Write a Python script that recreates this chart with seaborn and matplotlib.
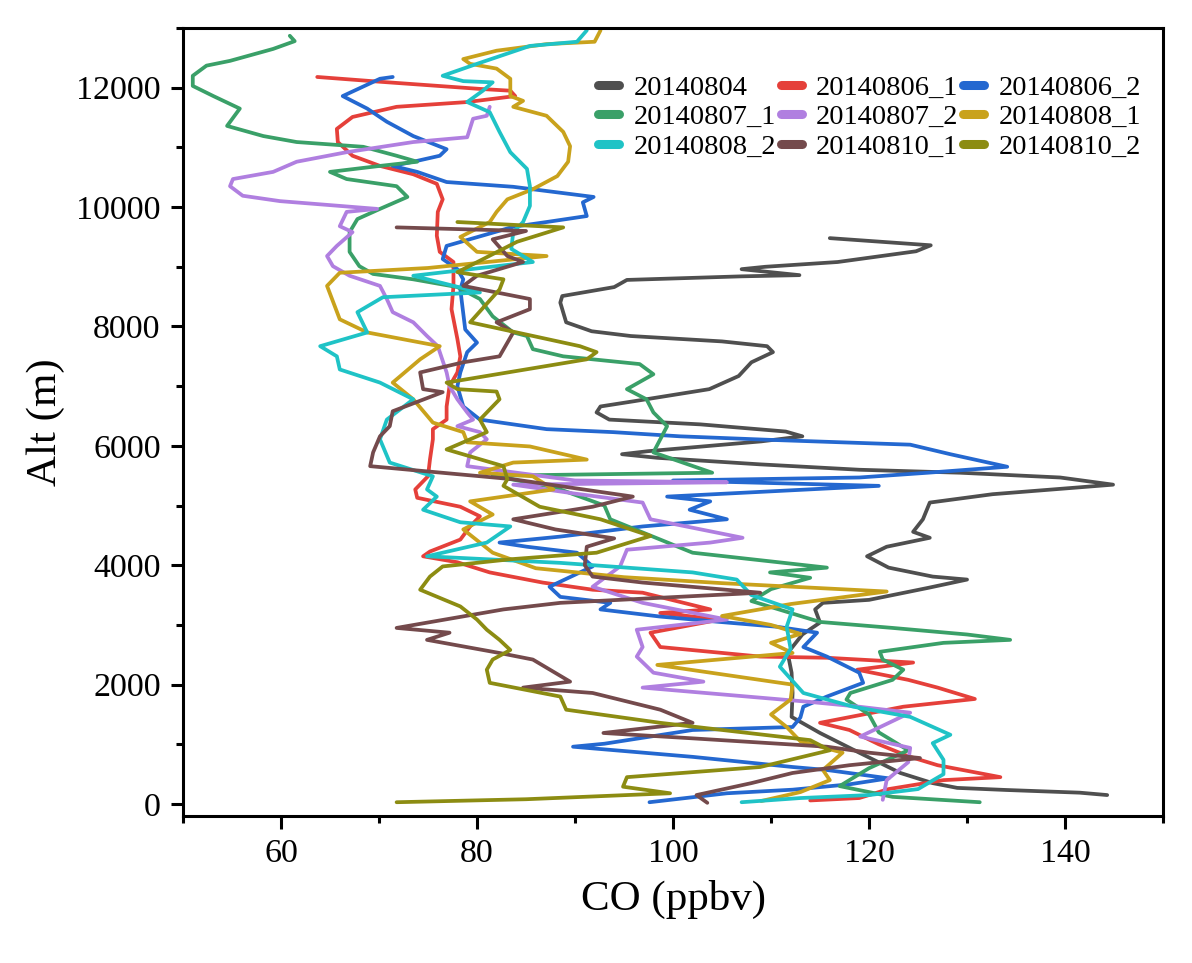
import matplotlib
matplotlib.use("Agg")
import matplotlib.pyplot as plt
from matplotlib.ticker import MultipleLocator
import pandas as pd
import seaborn as sns

flights = ['20140804', '20140806_1', '20140806_2', '20140807_1', '20140807_2',
           '20140808_1', '20140808_2', '20140810_1', '20140810_2']
colors = ['#4f4f4f', '#e5403a', '#2468d0', '#3aa068', '#b07fe0',
          '#c9a21c', '#1fc3c6', '#744a4c', '#8c8c12']

# 20140804
co_0804 = [144.3, 141.5, 134, 129, 126.5, 123.2, 119, 115, 112.1, 112.2, 112.1, 111.7, 113.2, 115, 114.5,
           115.3, 120, 126, 130, 126.5, 122, 119.8, 121.8, 126.2, 124.5, 125.5, 126.2, 132.6, 144.9, 139.5,
           129.3, 119, 108.9, 98.4, 94.8, 97.4, 109, 113.2, 111.5, 102.8, 93.5, 92.2, 92.6, 96.1, 103.7,
           106.7, 108, 110.2, 109.6, 105, 95.7, 91.7, 89.1, 88.5, 88.7, 94, 95.3, 107, 112.9, 107,
           109.4, 116.8, 124.8, 126.3, 116]
alt_0804 = [150, 190, 235, 270, 350, 520, 860, 1190, 1460, 1860, 2200, 2530, 2840, 3040, 3260,
            3370, 3420, 3620, 3760, 3810, 3960, 4150, 4310, 4460, 4560, 4770, 5050, 5190, 5350, 5470,
            5550, 5600, 5690, 5800, 5860, 5910, 6075, 6160, 6240, 6360, 6440, 6560, 6660, 6750, 6950,
            7170, 7400, 7570, 7670, 7750, 7840, 7920, 8070, 8400, 8510, 8660, 8780, 8840, 8860, 8960,
            9000, 9080, 9260, 9360, 9480]

# 20140806_1
co_0806_1 = [63.7, 70.1, 80.3, 83.4, 83.9, 79, 71.8, 67.3, 65.7, 65.8, 67.3, 70.1, 73.5, 75.9, 76.5,
             76, 75.9, 76.2, 77.6, 77.6, 77.4, 78, 78.3, 78, 77.2, 76.9, 76.9, 75.5, 75.5, 75.2,
             75, 73.7, 73.9, 78.3, 80.3, 79.3, 78.3, 75.2, 74.5, 78, 81.3, 86.7, 91.8, 96.9, 103.8,
             98.7, 104.8, 97.7, 98.7, 108.9, 115.7, 124.5, 118.8, 124, 127, 130.8, 123.5, 115, 118, 121,
             124, 127, 133.4, 127.6, 122, 119, 114]
alt_0806_1 = [12180, 12100, 11980, 11950, 11860, 11760, 11680, 11510, 11310, 11090, 10860, 10690, 10550, 10390, 10130,
              9920, 9520, 9250, 9080, 8680, 8290, 7790, 7500, 7230, 7000, 6660, 6440, 6280, 6110, 5770,
              5490, 5270, 5130, 4980, 4820, 4650, 4430, 4230, 4150, 4050, 3880, 3710, 3590, 3540, 3260,
              3200, 3090, 2870, 2630, 2470, 2450, 2370, 2250, 2080, 1950, 1760, 1630, 1360, 1240, 1000,
              800, 650, 450, 400, 250, 100, 60]

# 20140806_2
co_0806_2 = [97.6, 105.5, 112.2, 118, 122, 115.7, 112.2, 102, 89.8, 93, 102, 112.2, 113, 113.3, 115.7,
             119.4, 119, 115.7, 113.3, 114.7, 110.6, 104.8, 98.7, 92.6, 93.6, 88.5, 87.4, 91.8, 90.2, 85.1,
             82.3, 88.5, 96.9, 105.5, 101.7, 103.8, 99.4, 121, 100, 119, 126, 134.1, 128.3, 124.2, 110,
             100.7, 93.9, 87.1, 80.3, 78.6, 78, 78.3, 79, 80, 78.8, 78.3, 78.6, 78, 76.5, 76.9,
             80.3, 83.7, 87.1, 91.2, 90.8, 91.9, 83.7, 76.9, 73.9, 71.4, 73.5, 76.2, 76.9, 73.5, 70.8,
             68.8, 66.3, 70.1, 71.4]
alt_0806_2 = [30, 180, 240, 330, 430, 570, 620, 790, 960, 1010, 1240, 1290, 1450, 1630, 1800,
              2030, 2200, 2470, 2630, 2870, 2970, 3050, 3140, 3260, 3370, 3470, 3640, 3980, 4210, 4310,
              4380, 4480, 4650, 4770, 4930, 5070, 5150, 5330, 5420, 5470, 5550, 5650, 5860, 6020, 6100,
              6160, 6230, 6280, 6440, 6660, 7000, 7230, 7570, 7730, 7950, 8620, 8790, 8960, 9130, 9350,
              9510, 9670, 9750, 9850, 10080, 10170, 10340, 10420, 10590, 10690, 10760, 10860, 10970, 11190, 11430,
              11650, 11860, 12150, 12180]

# 20140807_1
co_0807_1 = [60.9, 61.4, 59.2, 54.8, 52.4, 51, 51, 53.1, 55.8, 54.5, 58.2, 61.6, 68.4, 71.8, 73.9,
             70.1, 65, 66.7, 71.8, 72.9, 70.1, 67.8, 67, 67, 68, 69.4, 73.5, 78, 80.3, 81.6,
             83.7, 85.1, 85.7, 88.8, 96.6, 98, 95.3, 97.3, 98, 99.4, 98.7, 98, 104, 81.6, 88,
             93, 93.6, 96.9, 102, 115.7, 109.9, 114, 110, 108, 112, 115, 122.4, 130, 134.4, 127.6,
             121.1, 121.4, 123.5, 122.4, 118.1, 117.7, 120, 121, 124, 120, 117, 122.4, 131.3]
alt_0807_1 = [12870, 12780, 12650, 12450, 12370, 12200, 12030, 11860, 11650, 11360, 11190, 11090, 11010, 10860, 10760,
              10690, 10590, 10470, 10350, 10170, 9970, 9800, 9580, 9250, 9010, 8880, 8790, 8660, 8460, 8170,
              7900, 7840, 7620, 7500, 7370, 7200, 6950, 6780, 6560, 6330, 6110, 5890, 5550, 5500, 5300,
              5000, 4770, 4550, 4210, 3960, 3880, 3790, 3600, 3400, 3200, 3050, 2950, 2840, 2750, 2700,
              2550, 2420, 2250, 2080, 1860, 1750, 1500, 1200, 900, 600, 300, 120, 30]

# 20140807_2
co_0807_2 = [121.4, 121.8, 124, 124.2, 119.1, 124.2, 119, 114, 96.9, 103.1, 98, 96.3, 96.9, 96.3, 105.5,
             96.9, 91.8, 94.6, 95.3, 103.8, 107.1, 97.7, 96.9, 90, 83.7, 105.5, 90, 79, 79.3, 81,
             80.3, 78, 79.6, 79, 78, 77.2, 76.9, 76, 74.9, 73.5, 71.4, 70.8, 70.1, 67, 65.3,
             64.7, 65.7, 67.3, 66, 66.7, 69.8, 66, 59.9, 56.1, 54.8, 55.1, 59.2, 61.6, 66.7, 73.5,
             79, 79.6, 81, 81.3]
alt_0807_2 = [70, 400, 700, 940, 1130, 1530, 1630, 1710, 1950, 2050, 2200, 2470, 2630, 2920, 3090,
              3370, 3640, 3980, 4260, 4380, 4460, 4770, 5050, 5200, 5350, 5390, 5420, 5660, 5890, 6110,
              6230, 6330, 6440, 6560, 6780, 7000, 7230, 7670, 7840, 8070, 8240, 8460, 8680, 8850, 9010,
              9180, 9350, 9580, 9680, 9920, 9970, 10020, 10100, 10190, 10350, 10470, 10590, 10760, 10920, 11090,
              11170, 11480, 11530, 11680]

# 20140808_1
co_0808_1 = [109, 113, 116, 115.3, 117.3, 113, 111.6, 110, 112, 112.2, 98.4, 112.2, 110, 113, 110,
             105, 112, 121.8, 105, 95, 86, 81.6, 78.6, 81.6, 79.3, 87.8, 85.7, 80.3, 83.7, 91.2,
             85.4, 79, 78.6, 75.5, 73.5, 71.4, 74.2, 76.2, 68.8, 66, 64.7, 66, 75, 87.1, 80,
             78.3, 81.3, 82, 83.1, 85.7, 88.2, 89.3, 89.5, 88.8, 87.1, 83.7, 84.7, 83.4, 83.4, 82,
             79.3, 78.6, 82, 87.1, 92, 92.6]
alt_0808_1 = [50, 200, 400, 570, 860, 1050, 1290, 1500, 1750, 2000, 2330, 2530, 2700, 2850, 3000,
              3150, 3350, 3560, 3700, 3800, 3950, 4210, 4600, 4850, 5070, 5270, 5490, 5550, 5720, 5770,
              5990, 6060, 6230, 6390, 6780, 7060, 7450, 7670, 7900, 8120, 8680, 8900, 8980, 9180, 9250,
              9500, 9750, 9920, 10130, 10300, 10520, 10760, 11020, 11260, 11530, 11680, 11780, 11860, 12150, 12320,
              12400, 12480, 12620, 12730, 12770, 12960]

# 20140808_2
co_0808_2 = [107, 113, 120, 125, 127.6, 127.6, 126.5, 128.3, 124.2, 118.4, 113.3, 110.9, 112, 111.6, 112.2,
             108, 106.5, 102, 93.6, 88.5, 74.9, 81, 83.4, 78.3, 74.5, 75.9, 74.9, 75.5, 71.1, 70.1,
             70.8, 73.5, 70.1, 66, 65.7, 64, 68.8, 67.8, 70.4, 80.3, 73.5, 85.7, 83.5, 83.7, 84.7,
             85.4, 85.4, 85.1, 83.4, 82.3, 81.3, 79, 80.6, 81.6, 78.6, 76.5, 80, 85.4, 90.2, 91.2]
alt_0808_2 = [30, 100, 150, 250, 500, 740, 1020, 1160, 1460, 1630, 1860, 2300, 2600, 2970, 3260,
              3500, 3760, 3880, 3980, 4040, 4150, 4380, 4650, 4720, 4930, 5150, 5270, 5490, 5720, 6110,
              6440, 6780, 7060, 7280, 7500, 7670, 7900, 8240, 8490, 8570, 8850, 9080, 9300, 9580, 9750,
              10020, 10350, 10640, 10920, 11260, 11590, 11760, 11950, 12090, 12110, 12200, 12400, 12700, 12770, 12960]

# 20140810_1
co_0810_1 = [103.5, 102.4, 108, 112.2, 118, 125.2, 120, 115.7, 102, 92.9, 102, 98.7, 91.8, 84.7, 89.5,
             85.7, 82.3, 74.9, 77.2, 71.8, 82.7, 88.5, 108.9, 96.9, 91.8, 91, 91.2, 94, 88, 83.7,
             91.8, 95.9, 83.7, 69.1, 69.4, 70.1, 71.1, 71.4, 76.5, 74.5, 74.2, 78.6, 82.3, 83.7, 82,
             85.4, 85.4, 78.6, 80, 84.7, 83.1, 81.6, 85, 71.8]
alt_0810_1 = [20, 150, 350, 520, 650, 770, 860, 960, 1100, 1190, 1360, 1580, 1860, 1950, 2050,
              2420, 2530, 2750, 2870, 2950, 3260, 3370, 3540, 3710, 3810, 4000, 4310, 4450, 4600, 4770,
              4980, 5150, 5440, 5660, 5890, 6160, 6330, 6580, 6900, 6950, 7230, 7400, 7500, 7900, 8070,
              8290, 8460, 8680, 8850, 9080, 9180, 9460, 9600, 9660]

# 20140810_2
co_0810_2 = [71.8, 85, 99.7, 94.9, 95.3, 108.9, 116, 114, 98.7, 89.1, 88.5, 81.3, 81, 81.6, 83.4,
             82.3, 81, 80, 78.3, 74.2, 75.2, 76.5, 83.4, 92.2, 97.7, 92.6, 86.4, 82.7, 83.1, 82.7,
             76.9, 81, 80.3, 82.3, 82, 78, 76.9, 91.2, 92.2, 90.5, 79.3, 82.3, 82.7, 78, 84.1,
             88.8, 78]
alt_0810_2 = [30, 80, 180, 290, 450, 620, 900, 1070, 1360, 1580, 1800, 2030, 2250, 2420, 2580,
              2750, 2920, 3090, 3310, 3590, 3810, 3980, 4100, 4210, 4490, 4770, 4980, 5330, 5440, 5660,
              5940, 6230, 6440, 6780, 6910, 6950, 7060, 7450, 7570, 7670, 8070, 8620, 8790, 8910, 9420,
              9660, 9750]

co_all = [co_0804, co_0806_1, co_0806_2, co_0807_1, co_0807_2, co_0808_1, co_0808_2, co_0810_1, co_0810_2]
alt_all = [alt_0804, alt_0806_1, alt_0806_2, alt_0807_1, alt_0807_2, alt_0808_1, alt_0808_2, alt_0810_1, alt_0810_2]

# long table for seaborn
frames = []
for name, co, alt in zip(flights, co_all, alt_all):
    frames.append(pd.DataFrame({'flight': name, 'co': co, 'alt': alt}))
df = pd.concat(frames, ignore_index=True)

sns.set_theme(style="ticks")
plt.rcParams['font.family'] = ['Liberation Serif', 'DejaVu Serif']
plt.rcParams['text.color'] = 'black'
plt.rcParams['axes.labelcolor'] = 'black'
plt.rcParams['xtick.color'] = 'black'
plt.rcParams['ytick.color'] = 'black'

fig = plt.figure(figsize=(11.92, 9.63), dpi=100)
ax = fig.add_axes([0.1535, 0.1527, 0.8222, 0.8182])

sns.lineplot(data=df, x='co', y='alt', hue='flight', hue_order=flights,
             palette=dict(zip(flights, colors)), sort=False, estimator=None, ax=ax)
for line in ax.lines:
    line.set_linewidth(2.7)
    line.set_solid_joinstyle('round')

ax.set_xlim(50, 150)
ax.set_ylim(-200, 13000)
ax.xaxis.set_major_locator(MultipleLocator(20))
ax.xaxis.set_minor_locator(MultipleLocator(10))
ax.yaxis.set_major_locator(MultipleLocator(2000))
ax.yaxis.set_minor_locator(MultipleLocator(1000))
ax.tick_params(which='major', direction='out', length=9, width=2.2, labelsize=24.5, pad=7)
ax.tick_params(which='minor', direction='out', length=5, width=2.2)
for sp in ax.spines.values():
    sp.set_linewidth(2.2)
    sp.set_color('black')

ax.set_xlabel('CO (ppbv)', fontsize=31, labelpad=8)
ax.set_ylabel('Alt (m)', fontsize=31, labelpad=8)

# legend row-wise in 3 columns
handles, labels = ax.get_legend_handles_labels()
order = [0, 3, 6, 1, 4, 7, 2, 5, 8]
leg = ax.legend([handles[i] for i in order], [labels[i] for i in order],
                ncol=3, loc='upper right', bbox_to_anchor=(0.995, 0.962), frameon=False,
                fontsize=20.5, handlelength=0.75, handletextpad=0.5, columnspacing=0.15,
                labelspacing=0.12, borderaxespad=0.2)
for line in leg.get_lines():
    line.set_linewidth(6.5)
    line.set_solid_capstyle('round')

fig.savefig('out.png', dpi=100)
